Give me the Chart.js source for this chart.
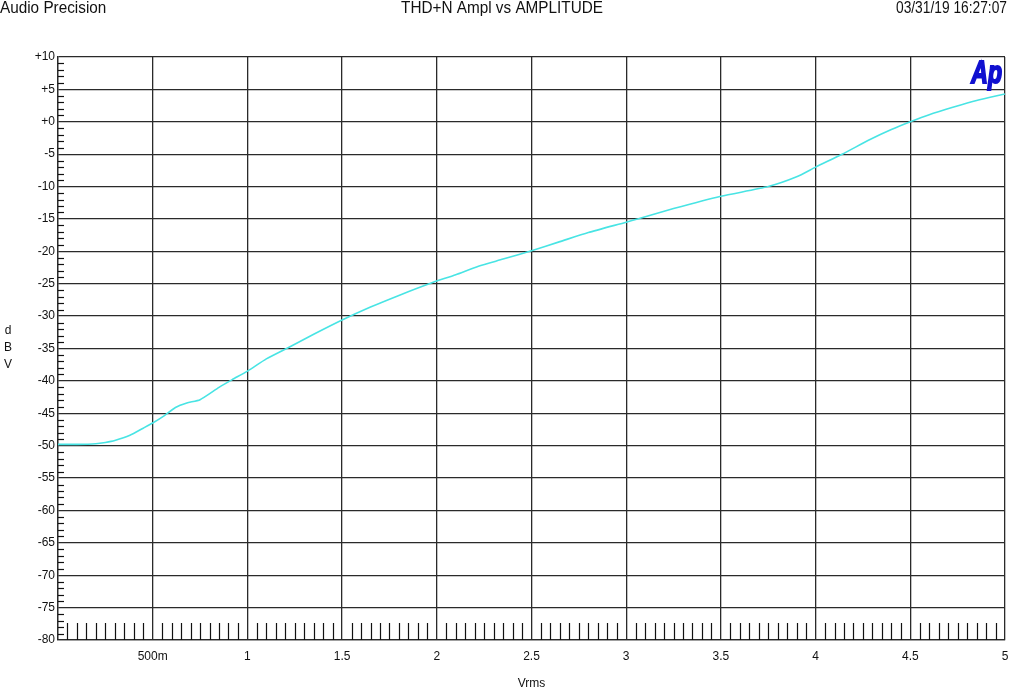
<!DOCTYPE html>
<html>
<head>
<meta charset="utf-8">
<script src="https://cdn.jsdelivr.net/npm/chart.js@4.4.1/dist/chart.umd.min.js"></script>
<style>
    html, body { margin: 0; padding: 0; background: #fff; }
    #wrap { width: 1024px; height: 691px; }
</style>
</head>
<body>
<div id="wrap"><canvas id="thdChart" width="1024" height="691"></canvas></div>
<script>
// values
const amplitudeVrms = [
    0.0, 0.1, 0.2, 0.25, 0.3, 0.38, 0.45, 0.5, 0.56, 0.62, 0.68, 0.75,
    0.85, 0.92, 1.0, 1.1, 1.22, 1.35, 1.5, 1.65, 1.8, 1.96, 2.1, 2.22,
    2.35, 2.5, 2.65, 2.8, 3.0, 3.06, 3.25, 3.5, 3.75, 3.9, 4.0, 4.14,
    4.29, 4.4, 4.5, 4.6, 4.72, 4.85, 5.0
];
const thdnDbv = [
    -49.8, -49.8, -49.7, -49.5, -49.2, -48.4, -47.3, -46.5, -45.4, -44.1, -43.4, -42.9,
    -41.0, -39.8, -38.5, -36.6, -34.8, -32.8, -30.6, -28.6, -26.8, -25.0, -23.6, -22.3,
    -21.2, -19.9, -18.5, -17.1, -15.5, -15.0, -13.4, -11.5, -10.0, -8.5, -7.0, -5.0,
    -2.7, -1.2, 0.0, 1.1, 2.2, 3.3, 4.3
];
const xTickLabels = { 0: "", 0.5: "500m" };
const headerLeft = "Audio Precision";
const headerTitle = "THD+N Ampl vs AMPLITUDE";
const headerDate = "03/31/19 16:27:07";
const yAxisLetters = ["d", "B", "V"];

const labelFont = "'Liberation Sans', Arial, sans-serif";

// text squeezed sideways, the AP plots use a narrow face
function drawNarrowText(ctx, text, x, y, align, squeeze, outline) {
    ctx.save();
    ctx.translate(x, y);
    ctx.scale(squeeze, 1);
    ctx.textAlign = align;
    ctx.fillText(text, 0, 0);
    if (outline) {
        ctx.strokeText(text, 0, 0);
    }
    ctx.restore();
}

const decorPlugin = {
    id: "apDecor",
    afterDraw(chart) {
        const ctx = chart.ctx;
        const area = chart.chartArea;
        const xs = chart.scales.x;
        const ys = chart.scales.y;

        ctx.save();
        ctx.strokeStyle = "#111";
        ctx.lineWidth = 1.2;

        // minor x ticks, every 0.05 V, from the bottom edge up
        for (let i = 1; i < 100; i++) {
            if (i % 10 === 0) continue;
            const px = Math.round(xs.getPixelForValue(i * 0.05)) + 0.5;
            ctx.beginPath();
            ctx.moveTo(px, area.bottom);
            ctx.lineTo(px, area.bottom - 17);
            ctx.stroke();
        }

        // minor y ticks, every 1 dB, on the left edge
        for (let v = -79; v < 10; v++) {
            if (v % 5 === 0) continue;
            const py = Math.round(ys.getPixelForValue(v)) + 0.5;
            ctx.beginPath();
            ctx.moveTo(area.left, py);
            ctx.lineTo(area.left + 6, py);
            ctx.stroke();
        }

        // header row
        ctx.fillStyle = "#111";
        ctx.textBaseline = "top";
        ctx.font = "17px " + labelFont;
        drawNarrowText(ctx, headerLeft, 0, 0, "left", 0.9);
        drawNarrowText(ctx, headerTitle, 502, 0, "center", 0.9);
        drawNarrowText(ctx, headerDate, 1007, 0, "right", 0.81);

        // stacked y axis title
        ctx.font = "12px " + labelFont;
        ctx.textAlign = "center";
        ctx.textBaseline = "middle";
        yAxisLetters.forEach((letter, i) => {
            ctx.fillText(letter, 8, 331 + i * 17);
        });

        // Ap logo
        ctx.font = "italic bold 32px 'Liberation Sans', Arial, sans-serif";
        ctx.fillStyle = "#1010d0";
        ctx.strokeStyle = "#1010d0";
        ctx.lineWidth = 2;
        ctx.textBaseline = "alphabetic";
        drawNarrowText(ctx, "Ap", area.right - 3, 83, "right", 0.72, true);

        ctx.restore();
    }
};

const ctx = document.getElementById("thdChart").getContext("2d");

new Chart(ctx, {
    type: "line",
    data: {
        datasets: [{
            data: amplitudeVrms.map((x, i) => ({ x, y: thdnDbv[i] })),
            borderColor: "#48e4e4",
            borderWidth: 1.6,
            pointRadius: 0,
            tension: 0.2,
            fill: false
        }]
    },
    options: {
        responsive: false,
        animation: false,
        layout: { padding: { top: 57, right: 19, left: 0, bottom: 0 } },
        plugins: {
            legend: { display: false },
            tooltip: { enabled: false }
        },
        scales: {
            x: {
                type: "linear",
                min: 0,
                max: 5,
                afterFit(scale) { scale.height = 51; },
                grid: { color: "#2a2a2a", lineWidth: 1.3, drawTicks: false },
                border: { color: "#2a2a2a", width: 1.3 },
                ticks: {
                    stepSize: 0.5,
                    padding: 9,
                    color: "#111",
                    font: { family: labelFont, size: 12 },
                    maxRotation: 0,
                    callback: (v) => (v in xTickLabels ? xTickLabels[v] : String(v))
                },
                title: {
                    display: true,
                    text: "Vrms",
                    color: "#111",
                    font: { family: labelFont, size: 12 },
                    padding: { top: 4, bottom: 0 }
                }
            },
            y: {
                min: -80,
                max: 10,
                afterFit(scale) { scale.width = 58; },
                grid: { color: "#2a2a2a", lineWidth: 1.3, drawTicks: false },
                border: { color: "#2a2a2a", width: 1.3 },
                ticks: {
                    stepSize: 5,
                    padding: 3,
                    color: "#111",
                    font: { family: labelFont, size: 12 },
                    callback: (v) => (v >= 0 ? "+" + v : String(v))
                }
            }
        }
    },
    plugins: [decorPlugin]
});
</script>
</body>
</html>
